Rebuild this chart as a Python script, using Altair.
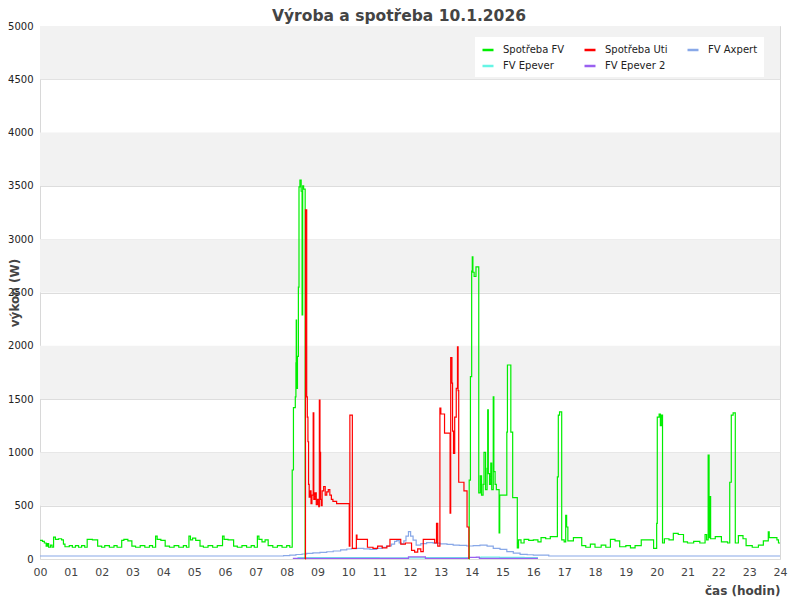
import altair as alt
import pandas as pd

# ---------------- data ----------------
band_low = [500, 1500, 2500, 3500, 4500]
band_high = [1000, 2000, 3000, 4000, 5000]

hour_ticks = list(range(0, 25))
watt_ticks = list(range(0, 5001, 500))

# legend is filled column by column, so this order gives the reference's rows
series_names = ["Spotřeba FV", "FV Epever", "Spotřeba Uti", "FV Epever 2", "FV Axpert"]
series_colors = ["#00ee00", "#66f5e5", "#ff0000", "#9a60f0", "#88a8e8"]

# consumption covered from FV (None = gap)
fv_hours = [0.00, 0.08, 0.14, 0.20, 0.24, 0.28, 0.34, 0.39, 0.44, 0.50, 0.60, 0.70, 0.76, 0.81, 0.95,
            1.05, 1.15, 1.25, 1.35, 1.45, 1.53, 1.70, 1.87, 2.00, 2.10, 2.25, 2.40, 2.50, 2.65, 2.72,
            2.85, 2.98, 3.10, 3.25, 3.40, 3.55, 3.65, 3.75, 3.80, 3.92, 4.06, 4.20, 4.35, 4.50, 4.65,
            4.75, 4.83, 4.88, 4.95, 5.05, 5.19, 5.30, 5.45, 5.60, 5.75, 5.92, 5.97, 6.10, 6.28, 6.40,
            6.55, 6.70, 6.85, 6.95, 7.05, 7.10, 7.20, 7.30, 7.40, 7.55, 7.70, 7.85, 8.00, 8.10, 8.18,
            8.22, 8.28, 8.30, 8.31, 8.32, 8.35, 8.38, 8.40, 8.43, 8.47, 8.50, 8.52, 8.55, 8.60, None,
            13.91, 13.92, 13.96, 14.00, 14.02, 14.04, 14.08, 14.14, 14.23, 14.28, 14.32, 14.37, 14.40,
            14.45, 14.50, 14.52, 14.54, 14.58, 14.62, 14.65, 14.70, 14.72, 14.76, 14.80, 14.89, 14.91,
            15.14, 15.16, 15.27, 15.33, 15.48, 15.52, 15.60, 15.70, 15.85, 16.00, 16.15, 16.25, 16.40,
            16.55, 16.78, 16.81, 16.85, 16.92, 17.00, 17.05, 17.08, 17.12, 17.30, 17.57, 17.70, 17.85,
            18.00, 18.20, 18.35, 18.50, 18.65, 18.80, 19.00, 19.15, 19.30, 19.50, 19.90, 20.00, 20.02,
            20.08, 20.12, 20.15, 20.19, 20.25, 20.40, 20.54, 20.70, 20.87, 21.00, 21.20, 21.40, 21.57,
            21.62, 21.67, 21.70, 21.73, 21.75, 21.90, 22.10, 22.30, 22.37, 22.42, 22.48, 22.55, 22.65,
            22.80, 22.90, 23.10, 23.30, 23.46, 23.62, 23.65, 23.90, 23.95, 24.00]
fv_watts = [175, 165, 150, 120, 145, 110, 130, 110, 205, 185, 190, 180, 140, 115, 125,
            110, 125, 110, 125, 110, 185, 180, 120, 110, 125, 110, 125, 110, 175, 185,
            170, 120, 110, 125, 110, 125, 110, 215, 185, 175, 120, 110, 125, 110, 125,
            110, 215, 180, 195, 175, 120, 110, 125, 110, 125, 215, 185, 180, 120, 110,
            125, 110, 125, 110, 215, 185, 160, 180, 125, 110, 125, 110, 125, 110, 835,
            1420, 1520, 1840, 2240, 1600, 1900, 2550, 3490, 3555, 3450, 2290, 3500, 3470, 0, None,
            0, 740, 1710, 2700, 2835, 2690, 2650, 2740, 620, 780, 600, 700, 1000,
            650, 850, 1400, 800, 700, 900, 650, 1520, 820, 700, 650, 245, 600,
            1190, 1820, 1190, 575, 105, 180, 150, 185, 175, 180, 160, 200, 190,
            210, 770, 1350, 1380, 180, 160, 410, 300, 170, 200, 125, 110, 140,
            110, 130, 110, 185, 170, 115, 125, 105, 125, 180, 100, 335, 1330,
            1360, 1250, 1350, 150, 190, 180, 240, 230, 160, 150, 165, 150, 230,
            180, 975, 200, 585, 190, 210, 160, 150, 720, 1350, 1370, 150, 220,
            190, 125, 110, 130, 170, 255, 200, 180, 150, 150]

# consumption covered from the grid (Uti)
uti_hours = [8.60, 8.61, 8.65, 8.67, 8.69, 8.71, 8.73, 8.76, 8.79, 8.82, 8.86, 8.88, 8.92, 8.96, 9.00,
             9.04, 9.06, 9.08, 9.10, 9.12, 9.15, 9.20, 9.25, 9.30, 9.35, 9.40, 9.45, 9.50, 9.62, 10.03,
             10.05, 10.13, 10.26, 10.28, 10.62, 10.80, 10.95, 11.10, 11.25, 11.35, 11.70, 11.85, 12.05,
             12.15, 12.25, 12.35, 12.43, 12.80, 12.86, 12.90, 12.97, 13.00, 13.12, 13.30, 13.32, 13.36,
             13.38, 13.41, 13.45, 13.50, 13.54, 13.56, 13.58, 13.75, 13.85, 13.91]
uti_watts = [0, 3275, 1520, 1330, 1100, 700, 580, 640, 520, 600, 1370, 560, 620, 510, 560,
             490, 1490, 1000, 560, 500, 640, 680, 600, 630, 650, 600, 560, 540, 520, 120,
             1350, 100, 225, 185, 110, 100, 120, 105, 120, 185, 140, 150, 80,
             65, 95, 70, 185, 150, 335, 120, 1415, 1360, 1180, 430, 1890, 1650,
             1200, 990, 1330, 1600, 1990, 1580, 720, 640, 300, 0]

axpert_hours = [0.0, 7.7, 7.9, 8.1, 8.3, 8.5, 8.65, 8.85, 9.08, 9.3, 9.51, 9.75, 9.95, 10.1, 10.27,
                10.5, 10.7, 10.92, 11.1, 11.24, 11.4, 11.5, 11.57, 11.65, 11.72, 11.8, 11.87, 11.95,
                12.02, 12.1, 12.2, 12.35, 12.54, 12.75, 12.97, 13.2, 13.4, 13.6, 13.84, 14.05, 14.27,
                14.5, 14.7, 14.92, 15.14, 15.35, 15.57, 15.8, 16.0, 16.2, 16.5, 24.0]
axpert_watts = [28, 28, 32, 37, 42, 47, 53, 58, 63, 68, 75, 85, 94, 98, 100,
                95, 91, 100, 110, 122, 140, 165, 172, 150, 141, 170, 215, 256,
                215, 178, 131, 145, 153, 148, 141, 138, 131, 128, 122, 125, 131,
                120, 100, 91, 69, 55, 44, 40, 37, 37, 28, 28]

epever_hours = [8.35, 9.5, 11.0, 12.5, 13.8, 14.3, 14.9, 15.7, 16.15]
epever_watts = [12, 12, 11, 12, 14, 18, 16, 14, 14]

epever2_hours = [8.2, 9.0, 11.85, 11.95, 12.5, 13.8, 13.9, 14.15, 14.25, 16.15]
epever2_watts = [5, 5, 5, 20, 5, 5, 15, 18, 5, 5]

# ---------------- build table ----------------
rows = []
seg = 0
draw_order = [("FV Epever", epever_hours, epever_watts),
              ("FV Epever 2", epever2_hours, epever2_watts),
              ("FV Axpert", axpert_hours, axpert_watts),
              ("Spotřeba FV", fv_hours, fv_watts),
              ("Spotřeba Uti", uti_hours, uti_watts)]
for k, (name, hs, ws) in enumerate(draw_order):
    seg += 1
    for h, w in zip(hs, ws):
        if h is None:
            seg += 1
            continue
        rows.append({"hour": h, "watt": w, "series": name, "seg": seg, "ord": k})
lines_df = pd.DataFrame(rows)

bands_df = pd.DataFrame({"lo": band_low, "hi": band_high})

W, H = 740, 533

bands = alt.Chart(bands_df).mark_rect(color="#f2f2f2").encode(
    y=alt.Y("lo:Q", scale=alt.Scale(domain=[0, 5000])),
    y2="hi:Q",
    x=alt.value(0),
    x2=alt.value(W),
)

lines = alt.Chart(lines_df).mark_line(interpolate="step-after", strokeWidth=1.2).encode(
    x=alt.X("hour:Q",
            scale=alt.Scale(domain=[0, 24], nice=False),
            axis=alt.Axis(values=hour_ticks, grid=False, ticks=False, domain=False,
                          labelExpr="datum.value < 10 ? '0' + datum.value : '' + datum.value",
                          labelFontSize=11, labelColor="#444", labelPadding=7,
                          labelFlush=False, labelBound=False,
                          title="čas (hodin)", titleFontSize=12, titleFontWeight="bold",
                          titleColor="#444", titleAnchor="end", titleAlign="right",
                          titleBaseline="middle", titleX=W, titleY=31)),
    y=alt.Y("watt:Q",
            scale=alt.Scale(domain=[0, 5000], nice=False),
            axis=alt.Axis(values=watt_ticks, grid=True, gridColor="#dddddd", ticks=False,
                          domain=False, format="d", labelFontSize=10, labelColor="#222",
                          labelPadding=7, labelFlush=False, labelBound=False,
                          title="výkon (W)", titleFontSize=12,
                          titleFontWeight="bold", titleColor="#444", titleAngle=270,
                          titleAlign="center", titleBaseline="middle",
                          titleX=-26, titleY=H / 2)),
    color=alt.Color("series:N",
                    scale=alt.Scale(domain=series_names, range=series_colors),
                    legend=alt.Legend(title=None, orient="none", legendX=435, legendY=11,
                                      columns=3, columnPadding=14, rowPadding=4,
                                      fillColor="white", padding=6, labelFontSize=10,
                                      labelColor="#222", symbolType="stroke",
                                      symbolSize=121, symbolStrokeWidth=2.5,
                                      labelOffset=8)),
    detail="seg:N",
    order="ord:Q",
)

chart = alt.layer(bands, lines).properties(
    width=W, height=H,
    title=alt.TitleParams("Výroba a spotřeba 10.1.2026", fontSize=15.5, font="DejaVu Sans",
                          fontWeight="bold", color="#444", anchor="middle", frame="group",
                          offset=8, dx=-11, dy=11),
    autosize=alt.AutoSizeParams(type="none"),
    padding={"left": 32, "top": 18, "right": 12, "bottom": 41},
).configure(
    font="DejaVu Sans",
).configure_view(
    stroke="#d8d8d8", strokeWidth=1,
)

chart.save("out.html", embed_options={"renderer": "svg", "actions": False})
